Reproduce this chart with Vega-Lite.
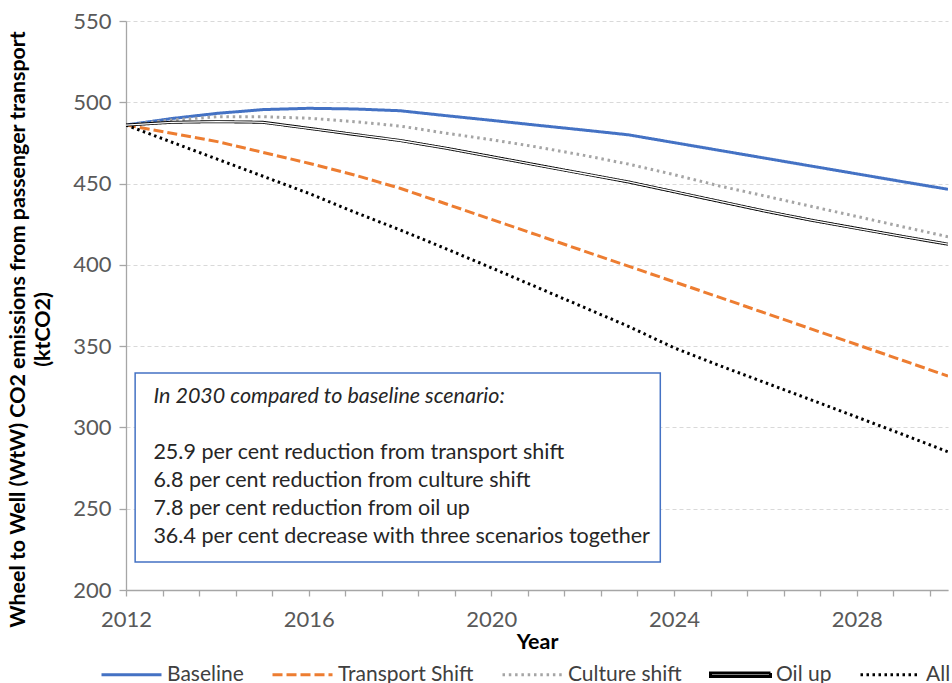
{
  "$schema": "https://vega.github.io/schema/vega-lite/v6.json",
  "width": 822,
  "height": 569,
  "autosize": {"type": "none"},
  "padding": {"left": 126, "top": 21, "right": 4, "bottom": 93},
  "background": "white",
  "config": {
    "font": "Lato",
    "view": {"stroke": null},
    "axis": {
      "labelFont": "Lato",
      "titleFont": "Lato",
      "labelFontSize": 22,
      "labelColor": "#595959",
      "titleFontSize": 21.4,
      "titleFontWeight": "bold",
      "titleColor": "#000000",
      "domainColor": "#A6A6A6",
      "tickColor": "#A6A6A6",
      "domainWidth": 1.3,
      "tickWidth": 1.3
    },
    "legend": {
      "labelFont": "Lato",
      "labelFontSize": 21,
      "labelColor": "#404040"
    }
  },
  "resolve": {"axis": {"x": "independent"}},
  "datasets": {
    "series": [
      {"year": 2012, "series": "Baseline", "value": 486},
      {"year": 2013, "series": "Baseline", "value": 490},
      {"year": 2014, "series": "Baseline", "value": 493.2},
      {"year": 2015, "series": "Baseline", "value": 495.5},
      {"year": 2016, "series": "Baseline", "value": 496.3},
      {"year": 2017, "series": "Baseline", "value": 495.9},
      {"year": 2018, "series": "Baseline", "value": 494.8},
      {"year": 2019, "series": "Baseline", "value": 491.8},
      {"year": 2020, "series": "Baseline", "value": 488.9},
      {"year": 2021, "series": "Baseline", "value": 485.9},
      {"year": 2022, "series": "Baseline", "value": 483},
      {"year": 2023, "series": "Baseline", "value": 480},
      {"year": 2024, "series": "Baseline", "value": 475.2},
      {"year": 2025, "series": "Baseline", "value": 470.4},
      {"year": 2026, "series": "Baseline", "value": 465.6},
      {"year": 2027, "series": "Baseline", "value": 460.8},
      {"year": 2028, "series": "Baseline", "value": 456},
      {"year": 2029, "series": "Baseline", "value": 451.2},
      {"year": 2030, "series": "Baseline", "value": 446.5},
      {"year": 2012, "series": "Transport Shift", "value": 486},
      {"year": 2013, "series": "Transport Shift", "value": 480.9},
      {"year": 2014, "series": "Transport Shift", "value": 475.8},
      {"year": 2015, "series": "Transport Shift", "value": 469.2},
      {"year": 2016, "series": "Transport Shift", "value": 462.5},
      {"year": 2017, "series": "Transport Shift", "value": 455.3},
      {"year": 2018, "series": "Transport Shift", "value": 447.1},
      {"year": 2019, "series": "Transport Shift", "value": 437.6},
      {"year": 2020, "series": "Transport Shift", "value": 428},
      {"year": 2021, "series": "Transport Shift", "value": 418.4},
      {"year": 2022, "series": "Transport Shift", "value": 408.8},
      {"year": 2023, "series": "Transport Shift", "value": 399.2},
      {"year": 2024, "series": "Transport Shift", "value": 389.6},
      {"year": 2025, "series": "Transport Shift", "value": 380},
      {"year": 2026, "series": "Transport Shift", "value": 370.3},
      {"year": 2027, "series": "Transport Shift", "value": 360.6},
      {"year": 2028, "series": "Transport Shift", "value": 351},
      {"year": 2029, "series": "Transport Shift", "value": 341.3},
      {"year": 2030, "series": "Transport Shift", "value": 331.6},
      {"year": 2012, "series": "Culture shift", "value": 486},
      {"year": 2013, "series": "Culture shift", "value": 489.1},
      {"year": 2014, "series": "Culture shift", "value": 491.1},
      {"year": 2015, "series": "Culture shift", "value": 491.1},
      {"year": 2016, "series": "Culture shift", "value": 490.2},
      {"year": 2017, "series": "Culture shift", "value": 488.1},
      {"year": 2018, "series": "Culture shift", "value": 485.4},
      {"year": 2019, "series": "Culture shift", "value": 481},
      {"year": 2020, "series": "Culture shift", "value": 477},
      {"year": 2021, "series": "Culture shift", "value": 472.5},
      {"year": 2022, "series": "Culture shift", "value": 467.5},
      {"year": 2023, "series": "Culture shift", "value": 462},
      {"year": 2024, "series": "Culture shift", "value": 455.5},
      {"year": 2025, "series": "Culture shift", "value": 448.5},
      {"year": 2026, "series": "Culture shift", "value": 442.3},
      {"year": 2027, "series": "Culture shift", "value": 436},
      {"year": 2028, "series": "Culture shift", "value": 429.8},
      {"year": 2029, "series": "Culture shift", "value": 423.5},
      {"year": 2030, "series": "Culture shift", "value": 417.3},
      {"year": 2012, "series": "Oil up", "value": 486},
      {"year": 2013, "series": "Oil up", "value": 487.7},
      {"year": 2014, "series": "Oil up", "value": 488.1},
      {"year": 2015, "series": "Oil up", "value": 487.7},
      {"year": 2016, "series": "Oil up", "value": 484},
      {"year": 2017, "series": "Oil up", "value": 480.2},
      {"year": 2018, "series": "Oil up", "value": 476.5},
      {"year": 2019, "series": "Oil up", "value": 471.8},
      {"year": 2020, "series": "Oil up", "value": 466.6},
      {"year": 2021, "series": "Oil up", "value": 461.4},
      {"year": 2022, "series": "Oil up", "value": 456.2},
      {"year": 2023, "series": "Oil up", "value": 451},
      {"year": 2024, "series": "Oil up", "value": 445},
      {"year": 2025, "series": "Oil up", "value": 439},
      {"year": 2026, "series": "Oil up", "value": 433},
      {"year": 2027, "series": "Oil up", "value": 427.5},
      {"year": 2028, "series": "Oil up", "value": 422.5},
      {"year": 2029, "series": "Oil up", "value": 417.5},
      {"year": 2030, "series": "Oil up", "value": 412.7},
      {"year": 2012, "series": "All", "value": 486},
      {"year": 2013, "series": "All", "value": 475.5},
      {"year": 2014, "series": "All", "value": 465},
      {"year": 2015, "series": "All", "value": 454.5},
      {"year": 2016, "series": "All", "value": 444},
      {"year": 2017, "series": "All", "value": 432.5},
      {"year": 2018, "series": "All", "value": 421.5},
      {"year": 2019, "series": "All", "value": 410},
      {"year": 2020, "series": "All", "value": 398.2},
      {"year": 2021, "series": "All", "value": 386.2},
      {"year": 2022, "series": "All", "value": 374.2},
      {"year": 2023, "series": "All", "value": 362.2},
      {"year": 2024, "series": "All", "value": 349},
      {"year": 2025, "series": "All", "value": 338},
      {"year": 2026, "series": "All", "value": 327.5},
      {"year": 2027, "series": "All", "value": 317},
      {"year": 2028, "series": "All", "value": 306.4},
      {"year": 2029, "series": "All", "value": 295.8},
      {"year": 2030, "series": "All", "value": 285}
    ],
    "box": [
      {"year": 2012.2, "year2": 2023.7, "value": 217.3, "value2": 333.5}
    ],
    "notes": [
      {"year": 2012.6, "value": 318.8, "label": "In 2030 compared to baseline scenario:", "italic": true},
      {"year": 2012.6, "value": 284.3, "label": "25.9 per cent reduction from transport shift", "italic": false},
      {"year": 2012.6, "value": 267.1, "label": "6.8 per cent reduction from culture shift", "italic": false},
      {"year": 2012.6, "value": 249.9, "label": "7.8 per cent reduction from oil up", "italic": false},
      {"year": 2012.6, "value": 232.7, "label": "36.4 per cent decrease with three scenarios together", "italic": false}
    ]
  },
  "layer": [
    {
      "data": {"name": "series"},
      "mark": {"type": "line", "clip": true},
      "encoding": {
        "x": {
          "field": "year",
          "type": "quantitative",
          "scale": {"domain": [2012, 2030], "nice": false, "zero": false},
          "axis": {
            "title": "Year",
            "grid": false,
            "values": [2012, 2016, 2020, 2024, 2028],
            "format": "d",
            "tickSize": 6,
            "labelPadding": 13,
            "titlePadding": 1,
            "labelFlush": false
          }
        },
        "y": {
          "field": "value",
          "type": "quantitative",
          "scale": {"domain": [200, 550], "nice": false, "zero": false},
          "axis": {
            "title": ["Wheel to Well (WtW) CO2 emissions from passenger transport", "(ktCO2)"],
            "values": [200, 250, 300, 350, 400, 450, 500, 550],
            "grid": true,
            "gridColor": "#D9D9D9",
            "gridDash": [4, 3],
            "gridWidth": 1,
            "tickSize": 7,
            "labelPadding": 8,
            "titlePadding": 19,
            "titleY": 308,
            "titleLineHeight": 25
          }
        },
        "color": {
          "field": "series",
          "type": "nominal",
          "scale": {
            "domain": ["Baseline", "Transport Shift", "Culture shift", "Oil up", "All"],
            "range": ["#4472C4", "#ED7D31", "#A5A5A5", "#000000", "#000000"]
          },
          "legend": {
            "title": null,
            "orient": "none",
            "direction": "horizontal",
            "legendX": -26,
            "legendY": 622,
            "symbolType": "stroke",
            "symbolSize": 3600,
            "labelOffset": 4,
            "columnPadding": 22,
            "encode": {
              "symbols": {
                "update": {
                  "shape": {"signal": "datum.value === 'Oil up' ? 'M-1,-0.06H1V0.06H-1Z' : 'stroke'"},
                  "fill": {"signal": "datum.value === 'Oil up' ? '#ffffff' : 'transparent'"}
                }
              }
            }
          }
        },
        "strokeDash": {
          "field": "series",
          "type": "nominal",
          "scale": {
            "domain": ["Baseline", "Transport Shift", "Culture shift", "Oil up", "All"],
            "range": [[1, 0], [10, 4], [2.5, 3.8], [1, 0], [2.5, 3.5]]
          },
          "legend": null
        },
        "strokeWidth": {
          "field": "series",
          "type": "nominal",
          "scale": {
            "domain": ["Baseline", "Transport Shift", "Culture shift", "Oil up", "All"],
            "range": [3, 3, 2.5, 4.2, 2.5]
          },
          "legend": null
        }
      }
    },
    {
      "data": {"name": "series"},
      "transform": [{"filter": "datum.series === 'Oil up'"}],
      "mark": {"type": "line", "color": "#ffffff", "strokeWidth": 1.3},
      "encoding": {
        "x": {
          "field": "year",
          "type": "quantitative",
          "axis": {
            "orient": "bottom",
            "title": null,
            "labels": false,
            "domain": false,
            "grid": false,
            "tickSize": 6,
            "values": [2012.8, 2013.6, 2014.4, 2015.2, 2016.8, 2017.6, 2018.4, 2019.2, 2020.8, 2021.6, 2022.4, 2023.2, 2024.8, 2025.6, 2026.4, 2027.2, 2028.8, 2029.6]
          }
        },
        "y": {"field": "value", "type": "quantitative"}
      }
    },
    {
      "data": {"name": "box"},
      "mark": {"type": "rect", "fill": "#ffffff", "stroke": "#4472C4", "strokeWidth": 1.5},
      "encoding": {
        "x": {"field": "year", "type": "quantitative", "axis": null},
        "x2": {"field": "year2"},
        "y": {"field": "value", "type": "quantitative"},
        "y2": {"field": "value2"}
      }
    },
    {
      "data": {"name": "notes"},
      "transform": [{"filter": "datum.italic"}],
      "mark": {"type": "text", "align": "left", "baseline": "middle", "fontSize": 21.5, "fontStyle": "italic", "font": "Lato", "color": "#262626"},
      "encoding": {
        "x": {"field": "year", "type": "quantitative", "axis": null},
        "y": {"field": "value", "type": "quantitative"},
        "text": {"field": "label"}
      }
    },
    {
      "data": {"name": "notes"},
      "transform": [{"filter": "!datum.italic"}],
      "mark": {"type": "text", "align": "left", "baseline": "middle", "fontSize": 21.5, "font": "Lato", "color": "#262626"},
      "encoding": {
        "x": {"field": "year", "type": "quantitative", "axis": null},
        "y": {"field": "value", "type": "quantitative"},
        "text": {"field": "label"}
      }
    }
  ]
}
